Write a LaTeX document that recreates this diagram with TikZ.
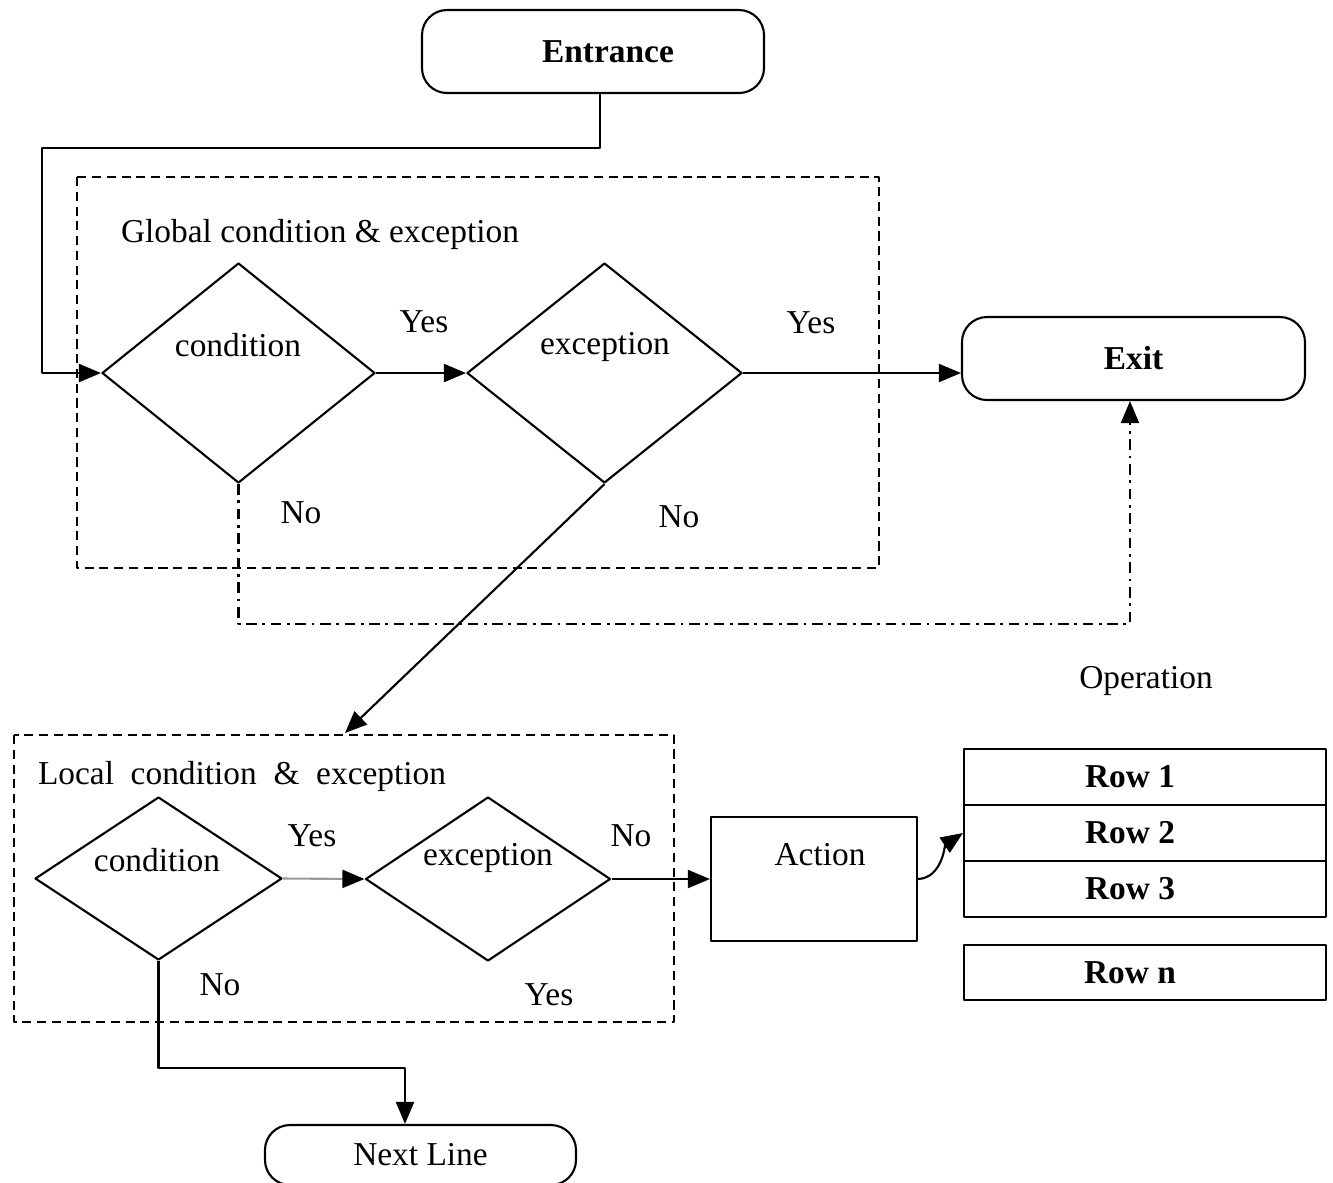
\documentclass[tikz,border=0pt]{standalone}
\usepackage{fontspec}
\setmainfont{Liberation Serif}
\usetikzlibrary{shapes.geometric,arrows.meta}

\tikzset{
  box/.style={draw, rectangle, inner sep=0pt},
  rbox/.style={draw, rounded corners=2.5mm, inner sep=0pt},
  dec/.style={draw, diamond, inner sep=0pt},
  area/.style={dash pattern=on 2.6pt off 1.6pt},
  dashdot/.style={dash pattern=on 3pt off 1.6pt on 0.8pt off 1.6pt},
}

\begin{document}
\begin{tikzpicture}[font=\fontsize{9.5}{11}\selectfont, line width=0.6pt, line join=round, >={Triangle[length=2.2mm,width=1.8mm]}]
\clip (0,0) rectangle (13.33,-11.82);
% start, exit, next line
\node[rbox, minimum width=3.42cm, minimum height=0.83cm] (ent) at (5.93,-0.515) {\bfseries Entrance\hspace*{-0.3cm}};
\node[rbox, minimum width=3.43cm, minimum height=0.83cm] (exit) at (11.335,-3.585) {\bfseries Exit};
\node[rbox, minimum width=3.11cm, minimum height=0.6cm] (nxt) at (4.205,-11.55) {Next Line};

% global part
\draw[area] (0.77,-1.77) rectangle (8.79,-5.68);
\node (glab) at (3.2,-2.34) {Global condition \& exception};
\node[dec, minimum width=2.73cm, minimum height=2.2cm] (c1) at (2.385,-3.73) {};
\node[dec, minimum width=2.75cm, minimum height=2.2cm] (e1) at (6.045,-3.73) {};
\node (c1t) at (2.38,-3.45) {condition};
\node (e1t) at (6.05,-3.47) {exception};
\node (y1) at (4.24,-3.22) {Yes};
\node (y2) at (8.11,-3.23) {Yes};
\node (n1) at (3.01,-5.13) {No};
\node (n2) at (6.79,-5.17) {No};
\node (op) at (11.46,-6.81) {Operation};

\coordinate (turn) at (0.42,-1.48);
\coordinate (back) at (11.3,-6.24);
\coordinate (lin) at (3.45,-7.33);
\draw[->] ([xshift=0.7mm]ent.south) |- (turn) |- (c1.west);
\draw[->] (c1.east) -- (e1.west);
\draw[->] (e1.east) -- (e1.east -| exit.west);
\draw[->] (e1.south) -- (lin);
\draw[dashdot, ->] (c1.south) |- (back) -- (back |- exit.south);

% local part
\draw[area] (0.14,-7.35) rectangle (6.74,-10.22);
\node (llab) at (2.42,-7.76) {Local\ \ condition\ \ \&\ \ exception};
\node[dec, minimum width=2.47cm, minimum height=1.63cm] (c2) at (1.585,-8.785) {};
\node[dec, minimum width=2.45cm, minimum height=1.64cm] (e2) at (4.88,-8.79) {};
\node (c2t) at (1.57,-8.6) {condition};
\node (e2t) at (4.88,-8.58) {exception};
\node (y3) at (3.12,-8.36) {Yes};
\node (n3) at (6.31,-8.36) {No};
\node (y4) at (5.49,-9.95) {Yes};
\node (n4) at (2.2,-9.85) {No};

% action and rows
\node[box, minimum width=2.06cm, minimum height=1.24cm] (act) at (8.14,-8.79) {};
\node (actt) at (8.2,-8.55) {Action};
\node[box, minimum width=3.62cm, minimum height=0.56cm] (r1) at (11.45,-7.77) {\bfseries Row 1\hspace*{0.3cm}};
\node[box, minimum width=3.62cm, minimum height=0.56cm] (r2) at (11.45,-8.33) {\bfseries Row 2\hspace*{0.3cm}};
\node[box, minimum width=3.62cm, minimum height=0.56cm] (r3) at (11.45,-8.89) {\bfseries Row 3\hspace*{0.3cm}};
\node[box, minimum width=3.62cm, minimum height=0.55cm] (rn) at (11.45,-9.725) {\bfseries Row n\hspace*{0.3cm}};

\coordinate (bend) at (4.05,-10.68);
\draw[black!40, -{Triangle[length=2.2mm,width=1.8mm,black]}] (c2.east) -- (e2.west);
\draw[->] (e2.east) -- (e2.east -| act.west);
\draw[->] (act.east) .. controls (9.42,-8.78) and (9.45,-8.45) .. (r2.west);
\draw[->] (c2.south) |- (bend) -- (bend |- nxt.north);
\end{tikzpicture}
\end{document}
